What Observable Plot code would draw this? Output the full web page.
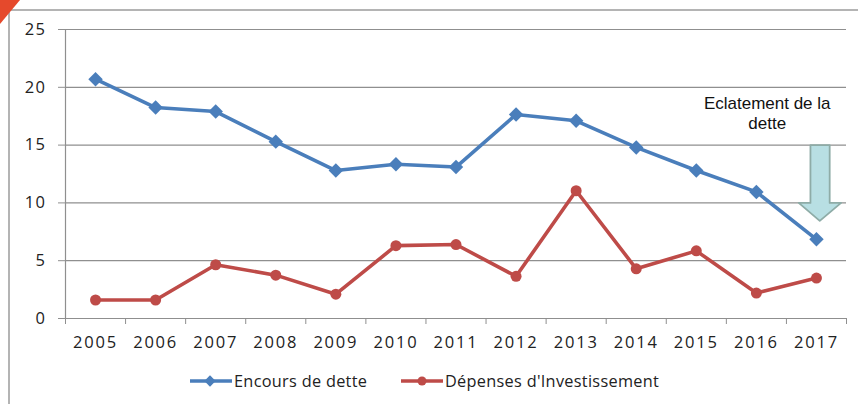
<!DOCTYPE html>
<html>
<head>
<meta charset="utf-8">
<script src="https://cdn.jsdelivr.net/npm/d3@7"></script>
<script src="https://cdn.jsdelivr.net/npm/@observablehq/plot@0.6"></script>
<style>
  html, body { margin: 0; padding: 0; background: #fff; }
  #wrap { position: relative; width: 858px; height: 404px; overflow: hidden; }
  #frame { position: absolute; left: 8px; top: 9px; width: 870px; height: 420px;
           border-left: 2px solid #b4b4b4; border-top: 2px solid #b4b4b4; }
  #corner { position: absolute; left: 0; top: 0; width: 0; height: 0;
            border-top: 24px solid #e5492c; border-right: 20px solid transparent; }
  #chart { position: absolute; left: 0; top: 0; }
  #chart g[aria-label="x-axis tick label"] text { letter-spacing: 1.8px; font-size: 16.5px; }
  #chart g[aria-label="y-axis tick label"] text { letter-spacing: 1.5px; font-size: 16.5px; }
  #legend { position: absolute; top: 371px; left: 0; width: 858px; height: 20px;
            font-family: "Open Sans", sans-serif; font-size: 16.3px; letter-spacing: 0.3px; color: #222; }
  .item { position: absolute; top: 0; display: flex; align-items: center; height: 20px; }
  .item svg { margin-right: 2px; }
</style>
</head>
<body>
<div id="wrap">
  <div id="frame"></div>
  <div id="corner"></div>
  <div id="chart"></div>
  <div id="legend"></div>
</div>
<script>
const years = [2005, 2006, 2007, 2008, 2009, 2010, 2011, 2012, 2013, 2014, 2015, 2016, 2017];
const encours = [20.7, 18.25, 17.9, 15.3, 12.8, 13.35, 13.1, 17.65, 17.1, 14.8, 12.8, 10.95, 6.85];
const depenses = [1.6, 1.6, 4.65, 3.75, 2.1, 6.3, 6.4, 3.65, 11.05, 4.3, 5.85, 2.2, 3.5];
const yTicks = [0, 5, 10, 15, 20, 25];
const seriesNames = ["Encours de dette", "Dépenses d'Investissement"];
const seriesColors = ["#4a7ebb", "#be4b48"];
const annotationText = "Eclatement de la\ndette";
// block arrow outline (data units: year, value)
const arrowShape = [
  [2016.90, 15.0], [2017.22, 15.0], [2017.22, 10.0], [2017.41, 10.0],
  [2017.055, 8.45], [2016.705, 10.0], [2016.90, 10.0], [2016.90, 15.0]
];

const rowsA = years.map((y, i) => ({year: y, value: encours[i]}));
const rowsB = years.map((y, i) => ({year: y, value: depenses[i]}));
const bounds = d3.range(years[0] - 0.5, years[years.length - 1] + 1, 1);

const chart = Plot.plot({
  width: 858,
  height: 404,
  marginLeft: 65,
  marginRight: 12,
  marginTop: 29,
  marginBottom: 86,
  style: {background: "transparent", fontFamily: "'Open Sans', sans-serif", fontSize: "16.5px", color: "#222"},
  x: {type: "linear", domain: [years[0] - 0.5, years[years.length - 1] + 0.5]},
  y: {domain: [0, 25]},
  marks: [
    Plot.gridY(yTicks.filter(d => d > 0), {stroke: "#8f8f8f", strokeOpacity: 1, strokeWidth: 1.2}),
    Plot.ruleX([bounds[0]], {y1: 0, y2: 25, stroke: "#8f8f8f", strokeWidth: 1.2}),
    Plot.ruleY([0], {stroke: "#8f8f8f", strokeWidth: 1.2}),
    Plot.axisY(yTicks, {tickSize: 7, tickPadding: 12, stroke: "#8f8f8f", label: null, fill: "#222"}),
    Plot.axisX(bounds, {tickSize: 6, stroke: "#8f8f8f", tickFormat: () => "", label: null}),
    Plot.axisX(years, {tickSize: 0, tickPadding: 18, tickFormat: d => String(d), label: null, fill: "#222"}),
    Plot.line(rowsA, {x: "year", y: "value", stroke: seriesColors[0], strokeWidth: 3.6}),
    Plot.dot(rowsA, {x: "year", y: "value", symbol: "diamond2", r: 6.5, fill: seriesColors[0], stroke: null}),
    Plot.line(rowsB, {x: "year", y: "value", stroke: seriesColors[1], strokeWidth: 3.6}),
    Plot.dot(rowsB, {x: "year", y: "value", r: 5.5, fill: seriesColors[1], stroke: null}),
    Plot.line(arrowShape, {x: d => d[0], y: d => d[1], fill: "#b8dfe3", stroke: "#8eaca7", strokeWidth: 1.8, curve: "linear"}),
    Plot.text([annotationText], {x: 2016.18, y: 17.8, text: d => d, fontFamily: "'Liberation Sans', Arial, sans-serif", fontSize: 17, fill: "#111", lineHeight: 1.2})
  ]
});
document.getElementById("chart").appendChild(chart);

// legend
const legend = document.getElementById("legend");
const lefts = [190, 401];
seriesNames.forEach((name, i) => {
  const item = document.createElement("div");
  item.className = "item";
  item.style.left = lefts[i] + "px";
  const marker = i === 0
    ? `<rect x="16" y="5" width="8" height="8" transform="rotate(45 20 9)" fill="${seriesColors[i]}"/>`
    : `<circle cx="21" cy="9" r="4.5" fill="${seriesColors[i]}"/>`;
  item.innerHTML = `<svg width="42" height="18"><line x1="0" x2="42" y1="9" y2="9" stroke="${seriesColors[i]}" stroke-width="3.5"/>${marker}</svg><span>${name}</span>`;
  legend.appendChild(item);
});
</script>
</body>
</html>
